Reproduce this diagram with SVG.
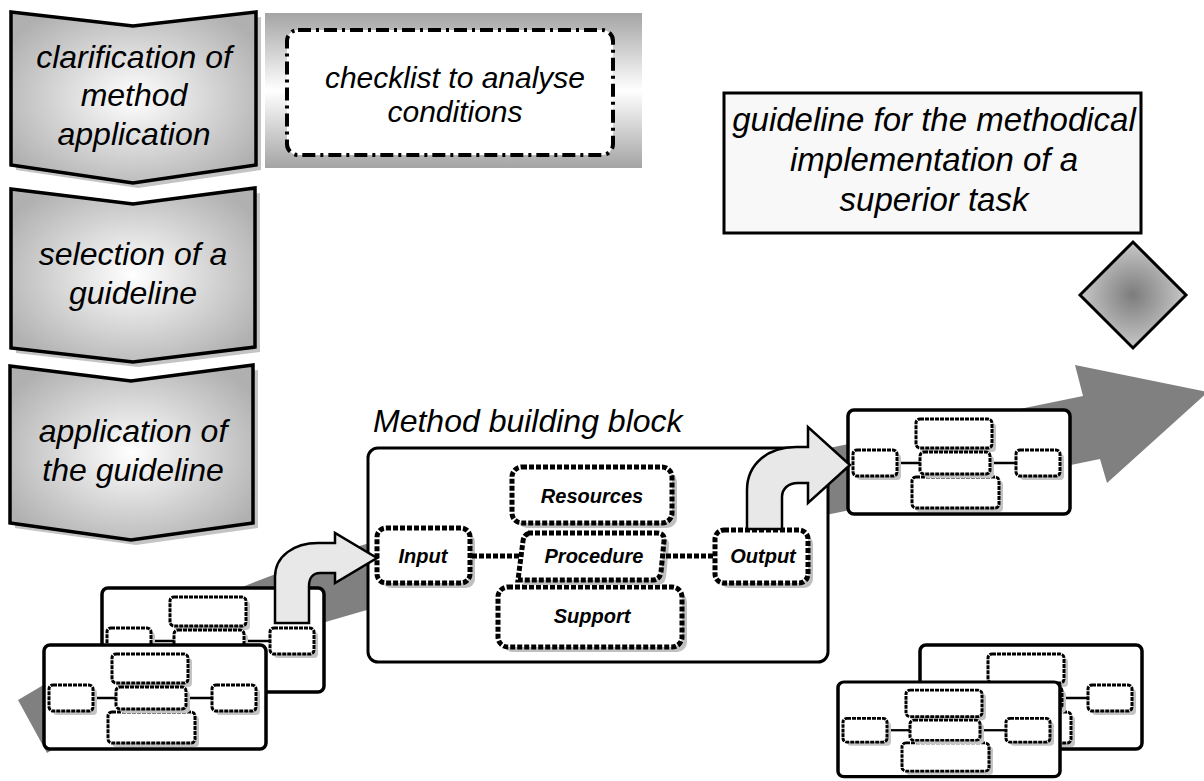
<svg xmlns="http://www.w3.org/2000/svg" xmlns:xlink="http://www.w3.org/1999/xlink" width="1204" height="781" viewBox="0 0 1204 781">
<style>
.it{font-family:"Liberation Sans",Arial,sans-serif;font-style:italic;fill:#000;text-anchor:middle}
.bi{font-family:"Liberation Sans",Arial,sans-serif;font-style:italic;font-weight:bold;fill:#000;text-anchor:middle;font-size:20px}
.chev{fill:url(#chevGrad);stroke:#000;stroke-width:3.5;stroke-linejoin:miter}
.chevsh{fill:#c4c4c4}
.dot{fill:#fff;stroke:#000;stroke-width:5;stroke-dasharray:5 2}
.dotsh{fill:#c0c0c0}
.mdot{fill:#fff;stroke:#000;stroke-width:3;stroke-dasharray:4 1}
.msh{fill:#c4c4c4}
.mline{stroke:#000;stroke-width:2.5;fill:none}
.lite{fill:#e8e8e8;stroke:#000;stroke-width:2.5;stroke-linejoin:miter}
</style>
<defs>
<radialGradient id="chevGrad" cx="0.5" cy="0.5" r="0.6">
<stop offset="0" stop-color="#ffffff"/>
<stop offset="1" stop-color="#b0b0b0"/>
</radialGradient>
<linearGradient id="chkGrad" x1="0" y1="0" x2="0" y2="1">
<stop offset="0" stop-color="#a4a4a4"/>
<stop offset="0.5" stop-color="#ffffff"/>
<stop offset="1" stop-color="#a4a4a4"/>
</linearGradient>
<radialGradient id="diaGrad" cx="0.5" cy="0.5" r="0.5">
<stop offset="0" stop-color="#7c7c7c"/>
<stop offset="1" stop-color="#c8c8c8"/>
</radialGradient>
<g id="mini">
<rect x="0" y="0" width="222" height="104" rx="6" fill="#fff" stroke="#000" stroke-width="3.5"/>
<line class="mline" x1="49" y1="53" x2="72" y2="53"/>
<line class="mline" x1="142" y1="53" x2="168" y2="53"/>
<rect class="msh" x="72" y="13" width="76" height="29" rx="4"/>
<rect class="mdot" x="68" y="9" width="76" height="29" rx="4"/>
<rect class="msh" x="9" y="44" width="44" height="26" rx="4"/>
<rect class="mdot" x="5" y="40" width="44" height="26" rx="4"/>
<rect class="msh" x="172" y="44" width="44" height="26" rx="4"/>
<rect class="mdot" x="168" y="40" width="44" height="26" rx="4"/>
<rect class="msh" x="68" y="71" width="87" height="31" rx="4"/>
<rect class="mdot" x="64" y="67" width="87" height="31" rx="4"/>
<rect class="msh" x="76" y="46" width="70" height="22" rx="4"/>
<rect class="mdot" x="72" y="42" width="70" height="22" rx="4"/>
</g>
</defs>

<rect width="1204" height="781" fill="#fff"/>

<g id="flow-arrow">
<path d="M18,700 Q200,590 380,540 L1083,396 L1075,365 L1208,392 L1107,483 L1100,459 L400,602 Q230,640 47,753 Z" fill="#808080"/>
</g>

<g id="step1">
<path class="chevsh" d="M16,17 L138,31 L261,17 L261,170 L138,188 L16,170 Z"/>
<path class="chev" d="M11,12 L133,26 L256,12 L256,165 L133,183 L11,165 Z"/>
<text class="it" font-size="32" x="134" y="68">clarification of</text>
<text class="it" font-size="32" x="134" y="106">method</text>
<text class="it" font-size="32" x="134" y="145">application</text>
</g>

<g id="step2">
<path class="chevsh" d="M16,194 L138,209 L260,193 L260,352 L138,367 L16,353 Z"/>
<path class="chev" d="M11,189 L133,204 L255,188 L255,347 L133,362 L11,348 Z"/>
<text class="it" font-size="32" x="133" y="265">selection of a</text>
<text class="it" font-size="32" x="133" y="304">guideline</text>
</g>

<g id="step3">
<path class="chevsh" d="M15,371 L136,386 L258,370 L258,528 L136,545 L15,528 Z"/>
<path class="chev" d="M10,366 L131,381 L253,365 L253,523 L131,540 L10,523 Z"/>
<text class="it" font-size="32" x="133" y="442">application of</text>
<text class="it" font-size="32" x="133" y="481">the guideline</text>
</g>

<g id="checklist">
<rect x="265" y="13" width="377" height="155" fill="url(#chkGrad)"/>
<rect x="287" y="30" width="326" height="125" rx="11" fill="#fff" stroke="#000" stroke-width="4" stroke-dasharray="13 5 3 5"/>
<text class="it" font-size="30" x="455" y="88">checklist to analyse</text>
<text class="it" font-size="30" x="455" y="122">conditions</text>
</g>

<g id="guideline">
<rect x="724" y="93" width="417" height="140" fill="#f8f8f8" stroke="#000" stroke-width="3"/>
<text class="it" font-size="33" x="934" y="131">guideline for the methodical</text>
<text class="it" font-size="33" x="934" y="171">implementation of a</text>
<text class="it" font-size="33" x="934" y="211">superior task</text>
</g>

<g id="decision">
<path d="M1080,295 L1133,242 L1186,295 L1133,348 Z" fill="url(#diaGrad)" stroke="#000" stroke-width="3"/>
</g>

<g id="stack-in">
<use xlink:href="#mini" href="#mini" x="102" y="588"/>
<use xlink:href="#mini" href="#mini" x="44" y="645"/>
</g>

<g id="block-out">
<use xlink:href="#mini" href="#mini" x="848" y="410"/>
</g>

<g id="stack-rest">
<use xlink:href="#mini" href="#mini" x="920" y="645"/>
<use xlink:href="#mini" href="#mini" transform="translate(838,682) scale(1,0.91)"/>
</g>

<g id="method-block">
<text class="it" font-size="32" x="373" y="432" style="text-anchor:start">Method building block</text>
<rect x="368" y="448" width="460" height="214" rx="10" fill="#fff" stroke="#000" stroke-width="3"/>
</g>

<g id="resources">
<rect class="dotsh" x="517" y="472" width="160" height="56" rx="10"/>
<rect class="dot" x="512" y="467" width="160" height="56" rx="10"/>
<text class="bi" x="592" y="503">Resources</text>
</g>

<g id="support">
<rect class="dotsh" x="503" y="592" width="184" height="60" rx="10"/>
<rect class="dot" x="498" y="587" width="184" height="60" rx="10"/>
<text class="bi" x="592" y="623">Support</text>
</g>

<g id="procedure">
<path class="dotsh" d="M533,538 H662 Q670,538 669,546 L666,577 Q665,585 657,585 H523 L528,546 Q529,538 537,538 Z"/>
<path class="dot" d="M528,533 H657 Q665,533 664,541 L661,572 Q660,580 652,580 H518 L523,541 Q524,533 532,533 Z"/>
<text class="bi" x="594" y="563">Procedure</text>
</g>

<g id="input">
<rect class="dotsh" x="382" y="533" width="93" height="55" rx="9"/>
<rect class="dot" x="377" y="528" width="93" height="55" rx="9"/>
<text class="bi" x="423" y="563">Input</text>
</g>

<g id="output">
<rect class="dotsh" x="720" y="535" width="93" height="53" rx="9"/>
<rect class="dot" x="715" y="530" width="93" height="53" rx="9"/>
<text class="bi" x="763" y="563">Output</text>
</g>

<g id="connectors">
<line x1="472" y1="556" x2="519" y2="556" stroke="#000" stroke-width="5" stroke-dasharray="5 2"/>
<line x1="666" y1="556" x2="713" y2="556" stroke="#000" stroke-width="5" stroke-dasharray="5 2"/>
<path class="lite" d="M275,623 L275,577 C275,556 294,543 318,543 L335,543 L335,533 L377,558 L335,583 L335,573 L320,573 C313,573 309,578 309,586 L309,623 Z"/>
<path class="lite" d="M747,529 L747,490 C747,464 768,447 796,447 L808,447 L808,427 L850,465 L808,503 L808,483 L798,483 C788,483 782,489 782,497 L782,529 Z"/>
</g>
</svg>
